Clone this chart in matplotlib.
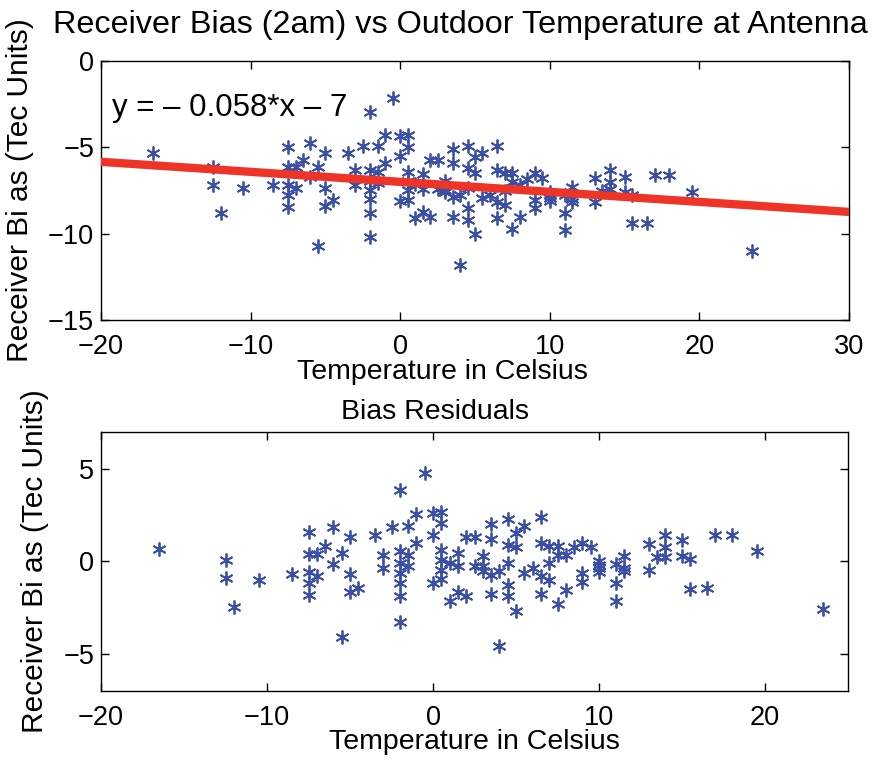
import matplotlib
matplotlib.use("Agg")
import matplotlib.pyplot as plt
import numpy as np

plt.rcParams['font.family'] = ['Liberation Sans', 'DejaVu Sans']

# outdoor temperature (C), receiver bias (TEC units) and residual after the fit
temperature = [-16.5, -12.5, -12.5, -12.0, -10.5, -8.5, -7.5, -7.5, -7.5, -7.5,
               -7.5, -7.0, -7.0, -6.5, -6.0, -6.0, -5.5, -5.5, -5.0, -5.0,
               -5.0, -4.5, -3.5, -3.0, -3.0, -2.5, -2.0, -2.0, -2.0, -2.0,
               -2.0, -2.0, -2.0, -1.5, -1.5, -1.5, -1.0, -1.0, -0.5, 0.0,
               0.0, 0.0, 0.5, 0.5, 0.5, 0.5, 0.5, 0.5, 1.0, 1.0,
               1.5, 1.5, 1.5, 2.0, 2.0, 2.5, 2.5, 3.0, 3.0, 3.0,
               3.5, 3.5, 3.5, 3.5, 4.0, 4.0, 4.5, 4.5, 4.5, 4.5,
               4.5, 5.0, 5.0, 5.0, 5.5, 5.5, 6.0, 6.5, 6.5, 6.5,
               6.5, 7.0, 7.0, 7.0, 7.5, 7.5, 7.5, 8.0, 8.0, 8.5,
               9.0, 9.0, 9.0, 9.5, 10.0, 10.0, 10.0, 10.0, 11.0, 11.0,
               11.0, 11.5, 11.5, 11.5, 13.0, 13.0, 13.5, 14.0, 14.0, 14.0,
               15.0, 15.0, 15.5, 15.5, 16.5, 17.0, 18.0, 19.5, 23.5]

bias = [-5.35, -6.16, -7.2, -8.8, -7.37, -7.2, -4.97, -6.12, -7.18, -7.76,
        -8.45, -6.12, -7.37, -5.74, -4.73, -6.7, -6.12, -10.71, -5.35, -7.37,
        -8.4, -8.05, -5.35, -6.31, -7.18, -4.92, -2.94, -6.31, -6.97, -7.47,
        -8.01, -8.78, -10.17, -4.92, -6.41, -7.08, -4.29, -5.93, -2.17, -4.35,
        -5.5, -8.1, -4.29, -4.97, -6.41, -6.93, -7.47, -8.05, -7.15, -9.09,
        -6.55, -7.4, -8.73, -5.74, -9.02, -5.74, -7.42, -6.95, -7.45, -7.6,
        -5.12, -5.93, -7.9, -9.02, -7.76, -11.81, -4.92, -6.2, -7.35, -8.53,
        -9.2, -5.54, -6.5, -10.02, -5.31, -7.95, -7.76, -4.92, -6.31, -8.15,
        -9.11, -6.5, -7.5, -8.34, -6.5, -6.99, -9.75, -7.18, -9.02, -6.85,
        -6.5, -8.05, -8.53, -6.8, -7.6, -7.76, -7.94, -8.1, -7.77, -8.82,
        -9.79, -7.28, -8.02, -8.15, -6.8, -8.15, -7.5, -6.3, -6.99, -7.4,
        -6.7, -7.57, -7.76, -9.4, -9.4, -6.6, -6.6, -7.57, -10.98]

residual = [0.66, 0.09, -0.91, -2.46, -1.02, -0.66, 1.61, 0.39, -0.59, -1.16,
            -1.82, 0.39, -0.77, 0.84, 1.84, -0.14, 0.45, -4.1, 1.34, -0.66,
            -1.64, -1.43, 1.43, 0.36, -0.36, 1.88, 3.88, 0.54, -0.09, -0.62,
            -1.16, -1.87, -3.27, 1.91, 0.36, -0.27, 2.55, 0.99, 4.77, 2.62,
            1.43, -1.16, 2.68, 2.06, 0.63, 0.09, -0.44, -0.94, -0.09, -2.14,
            0.48, -0.27, -1.66, 1.34, -1.87, 1.34, -0.23, 0.27, -0.27, -0.54,
            2.02, 1.2, -0.71, -1.78, -0.54, -4.55, 2.32, 0.89, -0.09, -1.25,
            -1.87, 1.55, 0.77, -2.68, 1.91, -0.62, -0.36, 2.41, 1.02, -0.77,
            -1.78, 0.84, -0.09, -0.98, 0.84, 0.36, -2.32, 0.36, -1.52, 0.77,
            0.99, -0.62, -1.12, 0.77, 0.0, -0.18, -0.36, -0.59, -0.13, -1.16,
            -2.14, 0.31, -0.36, -0.54, 0.95, -0.44, 0.24, 1.43, 0.8, 0.24,
            1.16, 0.27, 0.13, -1.48, -1.43, 1.43, 1.43, 0.57, -2.59]

slope = -0.058
intercept = -7
fit_x = [-20, 30]

blue = '#3c4fa6'
red = '#ee3327'
star = (6, 2, 0)

fig = plt.figure(figsize=(8.84, 7.62), dpi=100)
ax1 = fig.add_axes([0.1143, 0.58, 0.8461, 0.34])
ax2 = fig.add_axes([0.1143, 0.0932, 0.8450, 0.3399])

fit_y = [slope * x + intercept for x in fit_x]
ax1.plot(fit_x, fit_y, color=red, linewidth=6, zorder=3)
ax1.plot(temperature, bias, linestyle='none', marker=star, markersize=10,
         markeredgewidth=1.3, color=blue, zorder=2)
ax1.set_xlim(-20, 30)
ax1.set_ylim(-15, 0)
ax1.set_xticks([-20, -10, 0, 10, 20, 30])
ax1.set_yticks([-15, -10, -5, 0])
ax1.set_title("Receiver Bias (2am) vs Outdoor Temperature at Antenna",
              fontsize=23.3, pad=20, x=0.48)
ax1.set_xlabel("Temperature in Celsius", fontsize=20.5, labelpad=-1, x=0.456)
ax1.set_ylabel("Receiver Bi as (Tec Units)", fontsize=21.5, labelpad=10)
ax1.text(-19.3, -2.7, "y = \u2013 0.058*x \u2013 7", fontsize=22.5, va='center')

ax2.plot(temperature, residual, linestyle='none', marker=star, markersize=10,
         markeredgewidth=1.3, color=blue)
ax2.set_xlim(-20, 25)
ax2.set_ylim(-7, 7)
ax2.set_xticks([-20, -10, 0, 10, 20])
ax2.set_yticks([-5, 0, 5])
ax2.set_title("Bias Residuals", fontsize=20.5, pad=9, x=0.447)
ax2.set_xlabel("Temperature in Celsius", fontsize=20.5, labelpad=-1)
ax2.set_ylabel("Receiver Bi as (Tec Units)", fontsize=21.5, labelpad=10)

for ax in (ax1, ax2):
    ax.tick_params(direction='in', top=True, right=True, labelsize=19.5,
                   length=6, width=1)
    ax.tick_params(axis='x', pad=10)
    ax.tick_params(axis='y', pad=5)
    for s in ax.spines.values():
        s.set_linewidth(1.0)

fig.savefig("out.png", dpi=100)
